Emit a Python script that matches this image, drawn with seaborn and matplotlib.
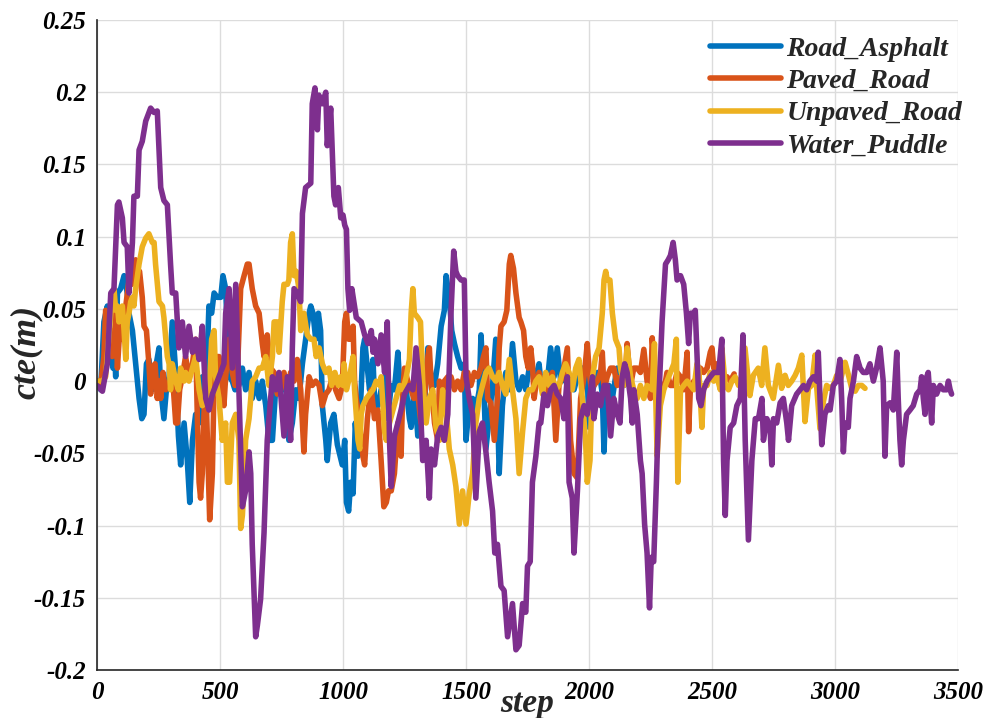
import numpy as np
import pandas as pd
import matplotlib
matplotlib.use("Agg")
import matplotlib.pyplot as plt
import seaborn as sns

# ---------------- data ----------------
ra_step = [0,15,28,42,56,65,69,76,83,96,110,123,130,144,157,171,182,191,201,211,225,238,252,259,272,282,293,306,320,331,340,354,367,377,388,401,415,428,442,455,466,476,489,503,512,523,537,550,561,577,591,604,618,631,645,659,672,686,699,713,726,740,753,767,780,794,808,821,835,848,862,869,878,889,900,909,916,930,936,950,963,977,984,997,
           1007,1014,1023,1031,1041,1050,1061,1074,1081,1088,1099,1108,1115,1122,1128,1142,1155,1169,1182,1196,1209,1223,1230,1243,1257,1270,1277,1290,1304,1317,1331,1345,1358,1372,1385,1399,1412,1419,1432,1442,1453,1466,1480,1493,1500,1513,1527,1540,1554,1561,1574,1581,1594,1608,1621,1635,1648,1662,1676,1689,1703,1716,1730,1743,1757,1770,1784,1797,1804,1817,1831,1844,1858,1871,1885,1898,1912,1925,
           1939,1953,1966,1980,1993,2000,2007,2020,2034,2047,2054,2061,2068,2081,2095,2108,2115,2128,2142,2153]
ra_cte = [0,-0.006,0.041,0.052,0.029,0.009,0.029,0.003,0.061,0.064,0.073,0.061,0.047,0.035,0.012,-0.012,-0.026,-0.023,0.012,0.015,-0.006,0.009,0.023,-0.006,-0.026,-0.006,0.003,0.041,0.006,-0.038,-0.058,-0.029,-0.055,-0.084,-0.041,-0.023,-0.029,0.003,-0.012,0.052,0.047,0.061,0.058,0.058,0.073,0.064,0.003,0,-0.006,-0.003,0.009,-0.006,0.006,-0.012,0,-0.012,0,-0.017,-0.041,-0.041,-0.006,0,-0.006,0,-0.041,-0.029,-0.006,-0.012,0.012,0.029,0.047,0.052,0.047,0.029,0.047,0.035,-0.017,-0.041,-0.055,-0.029,-0.023,-0.044,-0.049,-0.058,
          -0.041,-0.084,-0.09,-0.07,-0.078,-0.029,-0.052,-0.006,0.023,0.029,0.009,-0.006,0.006,0.015,-0.012,-0.017,-0.006,0.003,-0.026,-0.003,-0.006,0.02,0,-0.006,-0.006,-0.026,-0.032,-0.003,-0.038,-0.006,-0.017,0.023,0.003,-0.003,0.012,0.038,0.049,0.073,0.058,0.035,0.026,0.017,0.009,0.012,-0.041,-0.017,-0.012,-0.02,-0.006,0.032,-0.012,-0.047,-0.026,-0.003,0.029,-0.064,-0.017,0.006,-0.006,0.026,0,-0.006,0.003,-0.006,0.009,0.006,0.003,0.012,0,0.003,0,0.023,0.003,0.023,0,0.003,-0.003,0,
          -0.006,0.003,0.009,0.009,0.003,-0.032,-0.012,-0.003,0.006,0,-0.009,-0.049,-0.017,-0.003,-0.012,0.003,0.009,0.003,-0.003,0]

pr_step = [0,15,28,35,42,49,56,62,69,76,83,89,96,103,110,117,130,141,150,157,164,173,184,191,201,211,218,225,236,245,252,259,268,279,293,306,320,327,336,347,360,374,388,401,408,415,421,428,435,442,449,458,469,476,482,496,507,516,523,537,550,561,570,584,598,611,618,631,645,659,672,679,692,706,720,733,747,760,774,787,801,814,828,841,848,862,875,889,903,916,930,943,957,970,984,997,
           1007,1014,1023,1034,1041,1047,1054,1068,1081,1088,1099,1108,1115,1128,1142,1155,1166,1176,1185,1196,1209,1223,1236,1243,1250,1263,1277,1288,1297,1304,1317,1331,1345,1351,1358,1372,1385,1392,1405,1412,1426,1439,1453,1466,1480,1493,1507,1520,1534,1547,1561,1571,1581,1588,1601,1615,1628,1635,1642,1655,1666,1676,1682,1693,1703,1716,1723,1734,1743,1753,1763,1770,1777,1784,1797,1811,1824,1838,1851,1865,1878,1892,1912,1919,1925,1939,1952,
           1966,1980,1993,2000,2009,2020,2034,2047,2054,2061,2074,2088,2101,2115,2128,2142,2149,2155,2169,2182,2196,2209,2223,2236,2250,2257,2270,2284,2297,2311,2317,2331,2345,2358,2372,2385,2399,2405,2412,2426,2439,2453,2466,2480,2493,2500,2507,2520,2534,2547,2561,2574,2590]
pr_cte = [0,-0.003,0.017,0.049,0.047,0.029,0.035,0.017,0.023,0.047,0.009,0.026,0.038,0.029,0.041,0.052,0.07,0.067,0.081,0.084,0.076,0.076,0.058,0.038,0.035,0.012,-0.009,0.009,0.012,-0.012,0,-0.012,0.006,-0.006,-0.003,0.006,-0.029,-0.029,-0.006,0.003,0.017,0.003,0.012,0.029,-0.026,-0.07,-0.081,-0.064,-0.023,0,-0.041,-0.096,-0.064,0,0.017,0.017,-0.006,-0.017,0.003,0.029,0.006,-0.003,0.003,0.064,0.073,0.081,0.081,0.064,0.052,0.047,0.026,0.017,0.032,0.009,0.006,-0.009,-0.006,0.006,-0.006,0.006,0,0.015,-0.006,-0.049,-0.023,0.003,-0.003,0,-0.003,-0.017,-0.009,-0.006,0.003,-0.006,-0.012,-0.003,
          0.041,0.047,0.029,0.029,0.038,0,-0.012,-0.029,-0.052,-0.058,-0.026,-0.012,-0.006,-0.026,-0.02,-0.055,-0.087,-0.084,-0.076,-0.076,-0.064,-0.029,-0.052,-0.006,0.009,0,-0.006,-0.012,0.017,-0.009,-0.029,-0.012,0.017,0.023,0,-0.029,-0.041,0,-0.012,0,0.003,0.003,-0.006,0,-0.006,0.006,0.006,-0.003,0.006,0.003,0.009,0.017,0.023,-0.012,-0.015,-0.041,-0.012,0.023,0.038,0.041,0.049,0.081,0.087,0.078,0.061,0.044,0.041,0.035,0.017,0.009,0.023,0.012,-0.012,-0.003,0.006,-0.006,0.003,-0.012,0.006,-0.041,-0.003,0.003,0.023,-0.012,-0.041,-0.064,-0.067,
          -0.012,0.003,0.026,0.009,-0.006,-0.003,0,0.006,0.02,-0.006,0.003,0.009,0.009,-0.003,0.003,0,0.006,0.026,-0.003,0.009,0.009,0.006,0.022,0,-0.012,0.03,0,0,-0.006,0,0.006,-0.003,-0.003,0.006,0.003,-0.006,0.02,-0.035,-0.006,0,-0.003,0.009,0.006,0.009,0.02,0.023,0.009,0.012,0.006,0,0.003,0,0.005]

ur_step = [0,22,35,49,56,62,69,76,83,89,96,103,110,117,123,130,137,144,150,157,171,184,198,211,225,232,238,252,266,272,286,293,299,306,320,331,340,354,360,374,388,401,415,428,442,455,466,476,482,496,509,523,530,539,550,564,577,584,591,598,604,618,631,645,659,672,686,699,713,720,733,740,753,760,774,780,787,794,801,810,821,828,841,855,869,882,891,903,916,930,943,954,967,981,991,1000,
           1004,1014,1027,1041,1047,1054,1061,1068,1074,1081,1095,1108,1122,1135,1149,1155,1169,1176,1189,1203,1216,1230,1243,1257,1270,1277,1284,1290,1304,1315,1324,1338,1351,1365,1378,1392,1405,1419,1432,1446,1459,1473,1486,1500,1513,1527,1540,1554,1567,1581,1594,1608,1621,1635,1648,1662,1676,1689,1703,1716,1730,1743,1757,1770,1784,1797,1811,1824,1838,1851,1865,1878,1892,1905,1919,1932,1946,1959,1973,1986,1993,
           2004,2014,2027,2041,2054,2061,2068,2074,2085,2095,2108,2122,2128,2142,2155,2169,2182,2196,2209,2223,2236,2257,2266,2277,2290,2304,2317,2331,2345,2355,2361,2372,2385,2399,2412,2426,2439,2446,2459,2466,2480,2493,2507,2520,2534,2540,2554,2567,2581,2594,2608,2621,
           2634,2654,2668,2688,2702,2715,2729,2749,2770,2783,2797,2810,2824,2838,2851,2865,2878,2892,2905,2919,2926,2939,2953,2966,2980,2993,3007,3021,3041,3055,3068,3082,3095,3109,3122]
ur_cte = [0,0,0.003,0.032,0.047,0.052,0.064,0.049,0.052,0.041,0.047,0.052,0.035,0.015,0.041,0.047,0.055,0.058,0.052,0.064,0.081,0.093,0.099,0.102,0.096,0.096,0.081,0.055,0.052,0.044,0.017,0.012,-0.006,0.012,0,-0.006,0.009,0,0.006,0,0.009,0.017,-0.006,-0.017,-0.015,-0.012,0.029,0.035,0.003,-0.012,-0.041,-0.029,-0.07,-0.07,-0.029,-0.023,-0.041,-0.102,-0.093,-0.07,-0.041,-0.026,0,0.003,0.009,0.009,0.017,-0.003,0.017,0.041,0.041,0.02,0.055,0.067,0.067,0.07,0.096,0.102,0.073,0.076,0.064,0.035,0.047,0.032,0.029,0.029,0.017,0.023,0.012,0.006,0.009,-0.003,0.006,-0.003,0.003,-0.003,
          0.012,-0.006,0.003,0.017,-0.006,-0.023,-0.041,-0.047,-0.023,-0.017,-0.012,-0.009,-0.006,0,-0.003,0.003,-0.035,-0.041,-0.029,-0.02,-0.012,-0.003,-0.006,0.003,0.015,0.047,0.064,0.047,0.044,0.041,0,-0.029,-0.012,-0.006,-0.032,-0.041,-0.006,-0.02,-0.047,-0.058,-0.073,-0.099,-0.076,-0.099,-0.078,-0.064,-0.029,-0.012,-0.003,0.006,0.009,0.003,0,0.006,-0.003,-0.009,0.015,-0.006,-0.026,-0.064,-0.035,-0.012,-0.006,-0.006,0,0.003,-0.009,0.006,-0.003,0.003,-0.006,-0.003,0.006,0.012,0.006,-0.006,0.009,0.015,-0.012,-0.041,-0.07,
          -0.055,0.003,0.017,0.023,0.047,0.07,0.076,0.07,0.07,0.047,0.029,0.023,0.009,-0.003,0.023,0.003,-0.006,-0.012,-0.003,-0.012,-0.003,-0.006,0.026,-0.052,-0.017,-0.006,0,0.006,0.012,0.029,-0.07,-0.006,-0.003,0,-0.003,-0.006,0.012,0.009,-0.032,-0.003,-0.003,0.006,0,0.003,-0.006,0.023,-0.003,-0.006,0,0.003,-0.003,0.003,
          0.023,-0.01,0.004,0.009,-0.003,0.023,-0.003,-0.012,0.011,-0.005,0.004,-0.003,0,0.004,0.009,0.018,-0.028,-0.005,-0.003,0.018,-0.005,-0.033,-0.014,-0.003,-0.005,-0.003,0.004,0,0.013,0.004,-0.005,-0.007,-0.003,-0.003,-0.005]

wp_step = [0,22,42,56,69,83,89,103,110,123,130,144,150,164,171,184,198,218,232,245,259,272,286,299,306,320,333,347,360,374,388,401,415,428,442,455,469,496,516,523,537,550,564,577,591,604,618,625,631,645,652,665,679,692,713,726,740,760,774,787,794,801,814,828,835,848,869,875,886,896,902,916,930,936,950,963,970,981,991,
           1000,1007,1014,1020,1027,1036,1047,1054,1074,1088,1101,1115,1122,1128,1142,1155,1169,1180,1189,1196,1209,1223,1236,1250,1270,1284,1297,1311,1324,1338,1351,1358,1372,1385,1399,1412,1426,1439,1450,1459,1466,1480,1493,1500,1513,1527,1540,1554,1567,1581,1594,1608,1617,1628,1642,1655,1669,1689,1703,1716,1730,1743,1750,1761,1770,1784,1797,1804,1817,1831,1844,1858,1871,1885,1898,1912,1919,1932,1939,1953,1966,1980,1993,
           2007,2014,2020,2034,2047,2061,2074,2088,2101,2115,2126,2135,2145,2155,2169,2176,2182,2196,2209,2216,2226,2236,2246,2253,2263,2274,2284,2297,2311,2322,2331,2342,2351,2358,2372,2385,2396,2405,2412,2426,2432,2446,2455,2466,2480,2493,2507,2527,2540,2547,2554,2561,2574,2588,2601,2615,2626,2635,2648,2662,2676,2689,2703,2709,2723,2736,2743,2750,2763,2777,2790,2804,2811,2824,2844,2858,2872,2885,2898,2912,2926,2932,2939,2946,2959,2973,
           2980,2993,3007,3020,3027,3034,3041,3054,3061,3075,3088,3102,3115,3129,3142,3156,3169,3183,3196,3203,3210,3224,3237,3251,3257,3264,3271,3278,3291,3305,3318,3332,3346,3352,3359,3366,3373,3379,3386,3393,3400,3413,3427,3440,3454,3461,3468,3474]
wp_cte = [-0.003,-0.007,0.012,0.061,0.064,0.122,0.124,0.113,0.096,0.093,0.061,0.096,0.128,0.128,0.16,0.166,0.18,0.189,0.186,0.187,0.134,0.125,0.122,0.081,0.061,0.061,0.023,0.041,0.017,0.038,0.02,0.029,0.015,0.038,-0.012,-0.02,-0.009,0.003,0.012,0.047,0.064,0.009,0.067,-0.006,-0.087,-0.076,-0.049,-0.064,-0.113,-0.177,-0.169,-0.151,-0.105,-0.041,0.003,-0.006,0.006,-0.038,0.003,-0.041,0.023,0.064,0.061,0.055,0.116,0.134,0.137,0.192,0.203,0.174,0.198,0.192,0.2,0.163,0.189,0.128,0.122,0.134,0.113,
          0.115,0.108,0.105,0.064,0.049,0.064,0.052,0.044,0.041,0.032,0.026,0.035,0.02,0.029,0.012,0.032,0.006,0.041,-0.041,-0.073,-0.038,-0.029,-0.02,-0.009,-0.003,-0.006,0.023,-0.003,-0.055,-0.041,-0.081,-0.047,-0.058,-0.038,-0.032,-0.041,-0.023,0.047,0.09,0.076,0.073,0.07,0.07,0.003,-0.012,-0.023,-0.081,-0.035,-0.029,-0.049,-0.07,-0.09,-0.119,-0.113,-0.142,-0.145,-0.177,-0.154,-0.186,-0.183,-0.154,-0.16,-0.128,-0.125,-0.07,-0.052,-0.029,-0.029,-0.009,-0.017,-0.006,-0.003,-0.009,-0.012,-0.026,0.003,-0.07,-0.081,-0.119,-0.076,-0.026,-0.017,-0.023,
          -0.006,0.003,-0.026,-0.009,-0.017,-0.003,-0.003,-0.038,-0.012,-0.023,-0.029,0.003,0.012,0.006,-0.012,-0.029,-0.006,-0.023,-0.055,-0.064,-0.099,-0.119,-0.157,-0.122,-0.125,-0.07,-0.012,0.041,0.081,0.084,0.087,0.096,0.084,0.07,0.073,0.067,0.047,0.026,0.047,0.047,0.049,-0.012,-0.017,-0.006,0,0.003,0.006,0.006,0.029,-0.055,-0.093,-0.055,-0.032,-0.029,-0.017,-0.012,0.032,-0.041,-0.11,-0.055,-0.026,-0.026,-0.012,-0.041,-0.026,-0.032,-0.058,-0.026,-0.029,-0.015,-0.012,-0.029,-0.041,-0.017,-0.009,-0.006,-0.003,-0.006,0,0.003,0,0.02,-0.012,-0.044,-0.023,-0.017,
          -0.02,-0.003,0,0.015,-0.012,-0.049,-0.029,-0.032,-0.012,0,0.017,0.009,0.006,0.006,0.012,0,0.009,0.023,0,-0.052,-0.017,-0.015,-0.02,0.02,-0.012,-0.041,-0.058,-0.041,-0.023,-0.02,-0.017,-0.009,-0.006,0.003,-0.012,-0.023,0.003,0.006,-0.012,-0.029,-0.003,-0.009,-0.003,-0.006,-0.006,0,-0.006,-0.009]

series_names = ["Road_Asphalt", "Paved_Road", "Unpaved_Road", "Water_Puddle"]
series_colors = ["#0072BD", "#D95319", "#EDB120", "#7E2F8E"]
x_ticks = [0, 500, 1000, 1500, 2000, 2500, 3000, 3500]
y_ticks = [-0.2, -0.15, -0.1, -0.05, 0, 0.05, 0.1, 0.15, 0.2, 0.25]
y_tick_labels = ["-0.2", "-0.15", "-0.1", "-0.05", "0", "0.05", "0.1", "0.15", "0.2", "0.25"]

# ---------------- build long table ----------------
frames = []
for name, s, v in zip(series_names,
                      [ra_step, pr_step, ur_step, wp_step],
                      [ra_cte, pr_cte, ur_cte, wp_cte]):
    assert len(s) == len(v), (name, len(s), len(v))
    frames.append(pd.DataFrame({"step": s, "cte": v, "series": name}))
df = pd.concat(frames, ignore_index=True)

sns.set_style("white")
plt.rcParams["font.family"] = ["Liberation Serif", "DejaVu Serif"]
plt.rcParams["font.weight"] = "bold"
plt.rcParams["font.style"] = "italic"

fig = plt.figure(figsize=(9.98, 7.18), dpi=100)
ax = fig.add_axes([97/998, 48/718, 861/998, 650/718])

LW = 4.0
sns.lineplot(data=df, x="step", y="cte", hue="series", hue_order=series_names,
             palette=series_colors, estimator=None, sort=False, linewidth=LW,
             ax=ax, legend=True)

ax.set_xlim(0, 3500)
ax.set_ylim(-0.2, 0.25)
ax.set_xticks(x_ticks)
ax.set_xticklabels([str(t) for t in x_ticks])
ax.set_yticks(y_ticks)
ax.set_yticklabels(y_tick_labels)
ax.grid(True, color="#dcdcdc", linewidth=1.0)
ax.set_axisbelow(True)
for sp in ["top", "right"]:
    ax.spines[sp].set_visible(False)
for sp in ["left", "bottom"]:
    ax.spines[sp].set_color("#262626")
    ax.spines[sp].set_linewidth(1.2)
ax.tick_params(direction="in", length=5, width=1, color="#262626",
               labelsize=18, pad=8, labelcolor="black")
for lab in ax.get_xticklabels() + ax.get_yticklabels():
    lab.set_fontweight("bold")
    lab.set_fontstyle("italic")

ax.set_xlabel("step", fontsize=24, fontweight="bold", fontstyle="italic")
ax.set_ylabel("cte(m)", fontsize=26, fontweight="bold", fontstyle="italic")
ax.xaxis.set_label_coords(0.5, -0.028)
ax.yaxis.set_label_coords(-0.063, 0.49)

handles, labels = ax.get_legend_handles_labels()
leg = ax.legend(handles, labels, loc="upper right", bbox_to_anchor=(1.016, 0.99),
                frameon=False, handlelength=2.55, handletextpad=0.2,
                labelspacing=0.25, borderaxespad=0.0, borderpad=0.35,
                prop={"size": 20, "weight": "bold", "style": "italic"})
for ln in leg.get_lines():
    ln.set_linewidth(LW)

fig.savefig("out.png", dpi=100)
